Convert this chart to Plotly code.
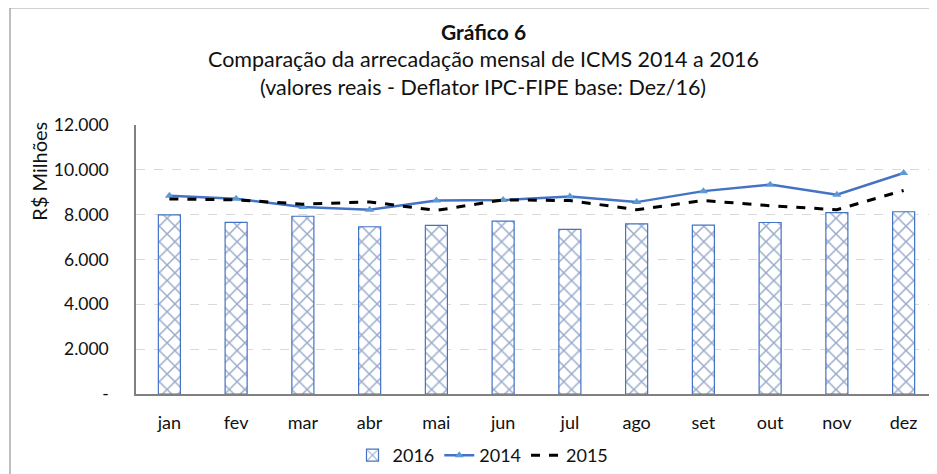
import plotly.graph_objects as go

months = ["jan", "fev", "mar", "abr", "mai", "jun", "jul", "ago", "set", "out", "nov", "dez"]
v2016 = [7990, 7660, 7930, 7460, 7520, 7710, 7340, 7590, 7530, 7650, 8090, 8130]
v2014 = [8840, 8710, 8340, 8220, 8630, 8650, 8810, 8560, 9050, 9340, 8890, 9860]
v2015 = [8700, 8660, 8470, 8570, 8190, 8660, 8630, 8220, 8630, 8400, 8220, 9080]
ytickvals = [0, 2000, 4000, 6000, 8000, 10000, 12000]
yticktext = ["-", "2.000", "4.000", "6.000", "8.000", "10.000", "12.000"]

FONT = "Lato"
OFF = 8  # page body margin
W, H = 937 - OFF, 474 - OFF
ML, MR, MT, MB = 136 - OFF, 0, 125 - OFF, 474 - 396
PW, PH = W - ML - MR, H - MT - MB


def px_x(p):
    return (p - OFF - ML) / PW


def px_y(p):
    return (H - MB - (p - OFF)) / PH


fig = go.Figure()
fig.add_trace(go.Bar(
    x=months, y=v2016, name="2016", width=0.33,
    marker=dict(color="white", line=dict(color="#4472C4", width=1.2),
                pattern=dict(shape="x", fgcolor="#2F5597", bgcolor="white", size=11, solidity=0.25)),
))
fig.add_trace(go.Scatter(
    x=months, y=v2014, name="2014", mode="lines+markers",
    line=dict(color="#4472C4", width=2.5),
    marker=dict(symbol="triangle-up", size=8, color="#5B9BD5"),
))
fig.add_trace(go.Scatter(
    x=months, y=v2015, name="2015", mode="lines",
    line=dict(color="black", width=3, dash="dash"),
))

fig.update_layout(
    width=W, height=H,
    margin=dict(l=ML, r=MR, t=MT, b=MB, pad=0),
    paper_bgcolor="white", plot_bgcolor="white",
    separators=",.",
    font=dict(family=FONT, size=15, color="#222222"),
    showlegend=True,
    legend=dict(orientation="h", x=px_x(483), xanchor="center", y=px_y(458), yanchor="middle",
                font=dict(size=18, color="#111111"), itemwidth=30, traceorder="normal"),
    xaxis=dict(showline=True, linecolor="#808080", linewidth=2, ticks="", showgrid=False,
               tickfont=dict(size=18, color="#111111"), range=[-0.5, 11.5], ticklabelstandoff=11),
    yaxis=dict(range=[0, 12000], tickvals=ytickvals, ticktext=yticktext, showline=True,
               linecolor="#808080", linewidth=1.5, showgrid=True, gridcolor="#D9D9D9",
               griddash="dash", gridwidth=1, zeroline=False, ticks="", ticklabelstandoff=22,
               tickfont=dict(size=17.5, color="#111111")),
    bargap=0.67,
)

ann = [
    dict(text="<b>Gráfico 6</b>", y=31, size=21),
    dict(text="Comparação da arrecadação mensal de ICMS 2014 a 2016", y=59, size=21.5),
    dict(text="(valores reais - Deflator IPC-FIPE base: Dez/16)", y=87, size=21.5),
]
for a in ann:
    fig.add_annotation(text=a["text"], xref="paper", yref="paper",
                       x=px_x(483), y=px_y(a["y"]), xanchor="center", yanchor="middle",
                       showarrow=False, font=dict(size=a["size"], color="#111111"))
fig.add_annotation(text="R$ Milhões", xref="paper", yref="paper", x=px_x(39), y=px_y(172),
                   xanchor="center", yanchor="middle", textangle=-90, showarrow=False,
                   font=dict(size=20, color="#111111"))
fig.add_shape(type="rect", xref="paper", yref="paper", x0=px_x(10), x1=px_x(945), y0=px_y(480), y1=px_y(7),
              line=dict(color="#7F7F7F", width=1), fillcolor="rgba(0,0,0,0)", layer="below")

fig.write_html("out.html")
